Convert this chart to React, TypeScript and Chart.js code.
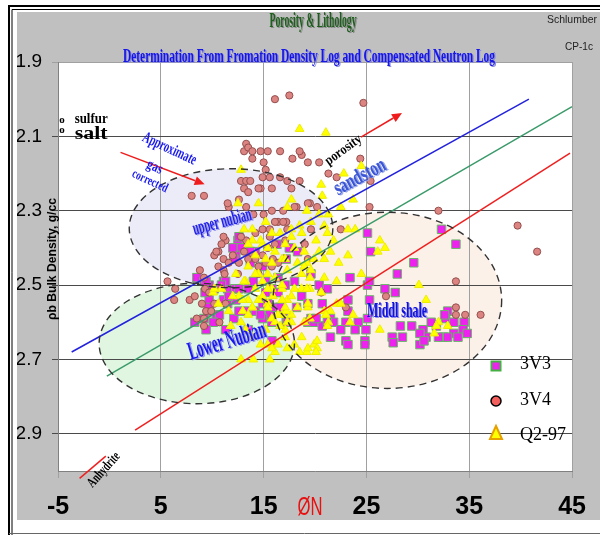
import React, { useEffect, useRef } from "react";
import { Chart, registerables } from "chart.js";

Chart.register(...registerables);

type P = [number, number];

// ---------- axes ----------
const X_TICKS = [-5, 5, 15, 25, 35, 45];
const Y_TICKS = [1.9, 2.1, 2.3, 2.5, 2.7, 2.9];
const X_MIN = -5, X_MAX = 45, Y_MIN = 1.9, Y_MAX = 3.0;

// ---------- series ----------
const SERIES_NAMES = ["3V3", "3V4", "Q2-97"];

const S_3V3: P[] = [
  [12.5, 2.38], [12.8, 2.40], [12.3, 2.42], [13.7, 2.44], [14.2, 2.41], [14.9, 2.45], [16.3, 2.39], [17.5, 2.40], [18.3, 2.41], [17.2, 2.43],
  [8.5, 2.48], [9.2, 2.49], [11.1, 2.49], [11.5, 2.51], [10.2, 2.51], [12.3, 2.51], [11.1, 2.54], [11.5, 2.55], [12.3, 2.54], [13.5, 2.51],
  [15.2, 2.49], [15.8, 2.51], [16.4, 2.48], [17.1, 2.50], [18.0, 2.49], [18.7, 2.53], [19.6, 2.47], [9.7, 2.54], [9.7, 2.57], [9.2, 2.59],
  [10.4, 2.59], [12.1, 2.59], [15.6, 2.58], [17.2, 2.60], [19.6, 2.59], [13.3, 2.57], [14.2, 2.57], [14.9, 2.55], [12.6, 2.37], [12.0, 2.40],
  [13.7, 2.41], [12.1, 2.43], [11.3, 2.49], [9.7, 2.50], [9.3, 2.52], [11.6, 2.53], [12.6, 2.51], [15.2, 2.52], [16.4, 2.52], [14.0, 2.49],
  [16.1, 2.56], [10.7, 2.58], [14.9, 2.59], [10.1, 2.60], [8.3, 2.60], [11.3, 2.62], [13.5, 2.62], [15.8, 2.60], [16.9, 2.57], [17.3, 2.60],
  [9.4, 2.49], [10.9, 2.50], [9.6, 2.56], [12.6, 2.57], [14.7, 2.58], [15.4, 2.55], [16.6, 2.56], [18.2, 2.56],
  [20.4, 2.50], [20.7, 2.55], [19.3, 2.60], [19.9, 2.60], [20.7, 2.61], [21.5, 2.59], [9.4, 2.62], [15.8, 2.65],
  [21.2, 2.51], [23.2, 2.54], [25.1, 2.50], [26.8, 2.51], [27.8, 2.52], [21.8, 2.60], [23.0, 2.60], [24.2, 2.60], [25.1, 2.59],
  [22.5, 2.62], [23.9, 2.62], [24.95, 2.62], [21.5, 2.64], [23.0, 2.65], [24.85, 2.65], [28.3, 2.61], [29.4, 2.61], [30.5, 2.62], [31.8, 2.61],
  [32.9, 2.57], [32.7, 2.59], [33.5, 2.60], [34.5, 2.60], [33.5, 2.63], [34.4, 2.62], [30.8, 2.64], [32.5, 2.64], [30.2, 2.66], [28.5, 2.64],
  [27.5, 2.64], [27.6, 2.655], [25.1, 2.36], [25.4, 2.41], [28.0, 2.47], [29.6, 2.44], [23.4, 2.48], [25.3, 2.49], [25.3, 2.54],
  [32.3, 2.35], [33.7, 2.39], [19.3, 2.55], [20.1, 2.59], [21.2, 2.60], [23.2, 2.57], [24.85, 2.66], [23.2, 2.66],
  [30.2, 2.63], [30.6, 2.65], [32.0, 2.64], [32.9, 2.64], [33.9, 2.64], [34.8, 2.63], [32.6, 2.58], [31.3, 2.60],
];

const S_3V4: P[] = [
  [16.1, 2.00], [17.5, 1.99], [24.7, 2.01],
  [13.3, 2.12], [13.1, 2.14], [13.5, 2.13], [13.9, 2.14], [13.9, 2.16], [14.7, 2.14], [15.4, 2.14], [16.6, 2.14], [18.7, 2.15], [15.0, 2.17], [17.8, 2.16],
  [15.2, 2.19], [14.9, 2.21], [15.6, 2.21], [16.6, 2.21], [17.3, 2.22], [18.5, 2.22], [12.8, 2.22], [13.3, 2.22], [13.7, 2.22], [13.1, 2.24],
  [14.7, 2.24], [15.8, 2.24], [17.7, 2.24], [8.0, 2.26], [9.2, 2.26], [11.6, 2.29], [13.3, 2.29],
  [18.5, 2.14], [19.3, 2.17], [20.4, 2.17], [21.3, 2.20], [22.1, 2.21], [24.4, 2.16],
  [19.5, 2.28], [20.2, 2.29], [18.2, 2.29], [25.3, 2.29], [22.5, 2.35], [32.0, 2.30], [39.7, 2.34], [41.6, 2.41],
  [33.7, 2.49], [26.9, 2.53], [23.0, 2.56], [20.6, 2.52], [33.7, 2.56], [33.7, 2.58], [34.6, 2.58], [36.1, 2.58], [25.4, 2.22],
  [14.0, 2.31], [15.0, 2.31], [15.8, 2.30], [16.9, 2.30], [18.0, 2.29], [19.3, 2.28],
  [14.2, 2.36], [14.9, 2.35], [15.6, 2.35], [16.4, 2.33], [17.2, 2.33], [17.3, 2.35],
  [11.3, 2.38], [10.9, 2.39], [10.6, 2.41], [10.2, 2.42], [11.1, 2.43], [12.0, 2.42], [12.6, 2.44], [13.1, 2.41], [13.9, 2.42], [14.2, 2.43],
  [14.9, 2.42], [15.2, 2.44], [15.8, 2.45], [15.9, 2.43], [16.4, 2.44], [15.4, 2.40], [15.6, 2.37], [16.1, 2.39],
  [10.6, 2.45], [11.1, 2.46], [11.2, 2.47], [8.8, 2.46], [9.2, 2.48], [5.65, 2.49], [6.4, 2.51], [6.3, 2.54], [7.8, 2.54], [8.3, 2.53],
  [9.3, 2.51], [9.4, 2.57], [8.5, 2.59],
  [12.5, 2.47], [14.5, 2.47], [17.1, 2.38], [13.3, 2.38], [12.8, 2.37], [19.0, 2.39], [19.3, 2.43], [19.6, 2.35],
  [11.5, 2.28], [12.6, 2.27], [13.5, 2.25], [14.5, 2.24], [16.1, 2.33], [16.9, 2.33],
  [11.1, 2.37], [10.4, 2.41], [11.6, 2.44], [13.5, 2.43], [14.5, 2.45], [9.7, 2.52], [9.2, 2.59], [10.2, 2.55], [11.3, 2.55],
  [9.2, 2.61], [10.7, 2.60], [9.0, 2.55], [9.9, 2.57],
];

const S_Q297: P[] = [
  [12.8, 2.19], [18.5, 2.08], [21.05, 2.09], [22.8, 2.20], [24.5, 2.18], [14.5, 2.28], [17.7, 2.27], [12.5, 2.28],
  [20.6, 2.23], [20.7, 2.26], [23.7, 2.27], [22.5, 2.29], [21.3, 2.31], [23.9, 2.35], [23.2, 2.35], [21.2, 2.36],
  [26.3, 2.38], [26.8, 2.40], [26.1, 2.41], [23.2, 2.42], [21.5, 2.41], [22.3, 2.44], [20.9, 2.43], [19.9, 2.43],
  [24.5, 2.47], [19.6, 2.46], [20.9, 2.48], [22.1, 2.49], [18.7, 2.51], [30.1, 2.50], [30.8, 2.54], [22.1, 2.55],
  [19.3, 2.56], [21.5, 2.57], [23.4, 2.60], [26.3, 2.62], [32.0, 2.60], [32.9, 2.61], [31.6, 2.63], [18.7, 2.64],
  [19.9, 2.66], [19.2, 2.68], [18.5, 2.68], [31.8, 2.61], [23.7, 2.58], [21.3, 2.60], [22.5, 2.55], [20.9, 2.57], [20.2, 2.67],
  [13.5, 2.54], [13.9, 2.56], [15.8, 2.59], [16.8, 2.58], [17.7, 2.58], [17.1, 2.62], [16.4, 2.66], [17.3, 2.67],
  [16.1, 2.68], [19.3, 2.67], [20.1, 2.68], [20.2, 2.65], [19.5, 2.59], [21.05, 2.58], [21.2, 2.61], [15.6, 2.70],
  [14.0, 2.70], [12.8, 2.70], [15.4, 2.66], [13.9, 2.64], [14.5, 2.54], [15.8, 2.51], [16.8, 2.51], [17.3, 2.54],
  [19.5, 2.51], [20.6, 2.52], [17.3, 2.29], [19.2, 2.30], [15.2, 2.33], [15.8, 2.36], [16.6, 2.36], [17.7, 2.35],
  [18.7, 2.36], [19.6, 2.33], [13.9, 2.38], [14.9, 2.39], [16.1, 2.41], [17.7, 2.37], [18.0, 2.40], [18.95, 2.41],
  [16.8, 2.43], [18.3, 2.44], [19.2, 2.44], [15.2, 2.43], [13.5, 2.45], [14.5, 2.47], [15.4, 2.47], [16.1, 2.48],
  [17.3, 2.46], [18.7, 2.47], [19.5, 2.48], [13.25, 2.49], [12.6, 2.53], [14.2, 2.51], [14.9, 2.53], [15.4, 2.55],
  [15.9, 2.53], [16.8, 2.54], [17.7, 2.53], [17.2, 2.57], [18.3, 2.56], [19.3, 2.55], [13.9, 2.56], [16.4, 2.58],
  [17.7, 2.60], [18.95, 2.60], [12.97, 2.57], [11.6, 2.57], [10.6, 2.55], [10.1, 2.52], [10.9, 2.51], [12.0, 2.53],
  [19.2, 2.51], [13.1, 2.35], [13.9, 2.35], [13.5, 2.39], [14.7, 2.38], [15.4, 2.40], [17.1, 2.39], [14.2, 2.42],
  [15.8, 2.44], [17.1, 2.43], [12.3, 2.47], [13.1, 2.49], [14.2, 2.47], [14.9, 2.49], [15.4, 2.51], [16.8, 2.50],
  [12.97, 2.54], [10.2, 2.51], [13.5, 2.58], [15.4, 2.56], [17.1, 2.56], [17.3, 2.60], [16.1, 2.60], [15.8, 2.67], [17.1, 2.64],
  [20.4, 2.31], [20.9, 2.34], [20.1, 2.38], [21.8, 2.38], [18.95, 2.45], [18.0, 2.51], [16.6, 2.61], [15.2, 2.62],
  [14.7, 2.66], [18.0, 2.66], [12.8, 2.60], [11.8, 2.61], [13.25, 2.62], [18.5, 2.34], [20.4, 2.41],
];

// ---------- lithology lines & overlays (data units) ----------
const SANDSTONE_LINE: P[] = [[-3.67, 2.68], [40.8, 2.0]];
const LIMESTONE_LINE: P[] = [[-0.25, 2.745], [45, 2.02]];
const DOLOMITE_LINE: P[] = [[2.5, 2.89], [44.8, 2.145]];
const ANHYDRITE_LINE: P[] = [[-2.9, 3.02], [-0.35, 2.96]];
const ARROWS: { from: P; to: P }[] = [
  { from: [1.08, 2.143], to: [9.26, 2.229] },
  { from: [24.47, 2.102], to: [28.46, 2.037] },
];
const ELLIPSES = [
  { cx: 11.83, cy: 2.347, rx: 9.9, ry: 0.16, fill: "#ececf8" },
  { cx: 8.5, cy: 2.657, rx: 9.5, ry: 0.162, fill: "#e0f6e0" },
  { cx: 27.03, cy: 2.541, rx: 11.12, ry: 0.237, fill: "#fcf1e8" },
];

// ---------- texts ----------
const SERIF = '"Liberation Serif", "Times New Roman", serif';
const SANS = '"Liberation Sans", Arial, sans-serif';
const NARROW = '"Liberation Sans Narrow", "Arial Narrow", "Liberation Sans", sans-serif';

type Note = {
  text: string; x: number; y: number; font: string; color: string;
  angle?: number; width?: number; align?: CanvasTextAlign; shadow?: string;
};

const PLOT_NOTES: Note[] = [
  { text: "o", x: -4.62, y: 2.056, font: `bold 11px ${SERIF}`, color: "#000" },
  { text: "o", x: -4.62, y: 2.083, font: `bold 11px ${SERIF}`, color: "#000" },
  { text: "sulfur", x: -3.38, y: 2.054, font: `bold 14px ${SERIF}`, color: "#000", width: 33, align: "left" },
  { text: "salt", x: -3.38, y: 2.094, font: `bold 18px ${SERIF}`, color: "#000", width: 33, align: "left" },
  { text: "Approximate", x: 5.84, y: 2.134, angle: 25, font: `bold 16px ${SERIF}`, color: "#1a1aee", width: 58 },
  { text: "gas", x: 4.41, y: 2.183, angle: 25, font: `bold 15px ${SERIF}`, color: "#1a1aee", width: 16 },
  { text: "corrected", x: 3.94, y: 2.221, angle: 25, font: `bold 13px ${SERIF}`, color: "#1a1aee", width: 38 },
  { text: "porosity", x: 22.76, y: 2.137, angle: -36, font: `bold 14px ${SERIF}`, color: "#000", width: 42 },
  { text: "sandston", x: 24.37, y: 2.21, angle: -28, font: `bold 22px ${SERIF}`, color: "#3a55d6", width: 56, shadow: "#9aa8e8" },
  { text: "upper nubian", x: 10.97, y: 2.331, angle: -15, font: `bold 20px ${SERIF}`, color: "#2222e8", width: 60, shadow: "#9a9af0" },
  { text: "Lower Nubian", x: 11.45, y: 2.652, angle: -17, font: `bold 26px ${SERIF}`, color: "#1818ee", width: 80, shadow: "#9a9af0" },
  { text: "Middl shale", x: 27.98, y: 2.571, font: `bold 21px ${SERIF}`, color: "#1212dd", width: 60, shadow: "#8c8cf0" },
  { text: "Anhydrite", x: -0.53, y: 2.997, angle: -48, font: `bold 14px ${SERIF}`, color: "#000", width: 42 },
];

const PAGE_NOTES: Note[] = [
  { text: "Porosity & Lithology", x: 313, y: 22, font: `bold 20px ${SERIF}`, color: "#1d5e1d", width: 87, shadow: "#8a8a8a" },
  { text: "Determination From Fromation Density Log and Compensated Neutron Log", x: 309, y: 57, font: `bold 18px ${SERIF}`, color: "#1515e8", width: 372, shadow: "#8c8cd8" },
  { text: "Schlumber", x: 547, y: 20, font: `11px ${SANS}`, color: "#222", width: 50, align: "left" },
  { text: "CP-1c", x: 565, y: 47, font: `11px ${SANS}`, color: "#222", width: 28, align: "left" },
  { text: "ØN", x: 310, y: 508, font: `25px ${SANS}`, color: "#e81010", width: 25 },
  { text: "ρb Bulk Density, g/cc", x: 53, y: 259, angle: -90, font: `bold 12px ${SANS}`, color: "#000", width: 122 },
];

const LEGEND_POS = [
  { mx: 496, my: 366, tx: 520, ty: 364 },
  { mx: 496, my: 401, tx: 520, ty: 400 },
  { mx: 496, my: 433, tx: 520, ty: 435 },
];

function drawNote(ctx: CanvasRenderingContext2D, n: Note, px: number, py: number) {
  ctx.save();
  ctx.translate(px, py);
  if (n.angle) ctx.rotate((n.angle * Math.PI) / 180);
  ctx.font = n.font;
  ctx.textAlign = n.align || "center";
  ctx.textBaseline = "middle";
  const w = ctx.measureText(n.text).width;
  const sx = n.width ? n.width / w : 1;
  ctx.scale(sx, 1);
  if (n.shadow) {
    ctx.fillStyle = n.shadow;
    ctx.fillText(n.text, 1.2 / sx, 1.2);
  }
  ctx.fillStyle = n.color;
  ctx.fillText(n.text, 0, 0);
  ctx.restore();
}

const toXY = (arr: P[]) => arr.map(([x, y]) => ({ x, y }));

const backgroundPlugin = {
  id: "bgFrame",
  beforeDraw(chart: any) {
    const { ctx, chartArea: a, scales } = chart;
    ctx.save();
    ctx.fillStyle = "#ffffff";
    ctx.fillRect(0, 0, chart.width, chart.height);
    ctx.fillStyle = "#c0c0c0";
    ctx.fillRect(17, 12, chart.width - 17, 508);
    ctx.strokeStyle = "#000";
    ctx.lineWidth = 2;
    ctx.beginPath();
    ctx.moveTo(9, 535); ctx.lineTo(9, 6); ctx.lineTo(600, 6);
    ctx.stroke();
    ctx.lineWidth = 1;
    ctx.beginPath();
    ctx.moveTo(12, 535); ctx.lineTo(12, 9.5); ctx.lineTo(600, 9.5);
    ctx.stroke();
    ctx.strokeStyle = "#666";
    ctx.beginPath();
    ctx.moveTo(9, 533.5); ctx.lineTo(600, 533.5);
    ctx.stroke();
    ctx.fillStyle = "#ffffff";
    ctx.fillRect(a.left, a.top, a.right - a.left, a.bottom - a.top);
    const x = scales.x, y = scales.y;
    ELLIPSES.forEach((e) => {
      const cx = x.getPixelForValue(e.cx), cy = y.getPixelForValue(e.cy);
      const rx = Math.abs(x.getPixelForValue(e.cx + e.rx) - cx);
      const ry = Math.abs(y.getPixelForValue(e.cy + e.ry) - cy);
      ctx.beginPath();
      ctx.ellipse(cx, cy, rx, ry, 0, 0, Math.PI * 2);
      ctx.fillStyle = e.fill;
      ctx.fill();
    });
    ctx.restore();
  },
  afterDatasetsDraw(chart: any) {
    const { ctx, scales } = chart;
    const x = scales.x, y = scales.y;
    ctx.save();
    ctx.strokeStyle = "#333";
    ctx.lineWidth = 1.4;
    ctx.setLineDash([7, 5]);
    ELLIPSES.forEach((e) => {
      const cx = x.getPixelForValue(e.cx), cy = y.getPixelForValue(e.cy);
      const rx = Math.abs(x.getPixelForValue(e.cx + e.rx) - cx);
      const ry = Math.abs(y.getPixelForValue(e.cy + e.ry) - cy);
      ctx.beginPath();
      ctx.ellipse(cx, cy, rx, ry, 0, 0, Math.PI * 2);
      ctx.stroke();
    });
    ctx.setLineDash([]);
    ctx.strokeStyle = "#ee1c1c";
    ctx.fillStyle = "#ee1c1c";
    ctx.lineWidth = 1.5;
    ARROWS.forEach((ar) => {
      const x1 = x.getPixelForValue(ar.from[0]), y1 = y.getPixelForValue(ar.from[1]);
      const x2 = x.getPixelForValue(ar.to[0]), y2 = y.getPixelForValue(ar.to[1]);
      const ang = Math.atan2(y2 - y1, x2 - x1);
      const hl = 10, hw = 4.5;
      const bx = x2 - hl * Math.cos(ang), by = y2 - hl * Math.sin(ang);
      ctx.beginPath();
      ctx.moveTo(x1, y1);
      ctx.lineTo(bx, by);
      ctx.stroke();
      ctx.beginPath();
      ctx.moveTo(x2, y2);
      ctx.lineTo(bx - hw * Math.sin(ang), by + hw * Math.cos(ang));
      ctx.lineTo(bx + hw * Math.sin(ang), by - hw * Math.cos(ang));
      ctx.closePath();
      ctx.fill();
    });
    ctx.restore();
  },
  afterDraw(chart: any) {
    const { ctx, scales } = chart;
    const x = scales.x, y = scales.y;
    PLOT_NOTES.forEach((n) => drawNote(ctx, n, x.getPixelForValue(n.x), y.getPixelForValue(n.y)));
    PAGE_NOTES.forEach((n) => drawNote(ctx, n, n.x, n.y));
    // legend
    ctx.save();
    const [p0, p1, p2] = LEGEND_POS;
    ctx.fillStyle = "#ee22ee";
    ctx.strokeStyle = "#44b044";
    ctx.lineWidth = 2;
    ctx.fillRect(p0.mx - 4.5, p0.my - 4.5, 9, 9);
    ctx.strokeRect(p0.mx - 4.5, p0.my - 4.5, 9, 9);
    ctx.beginPath();
    ctx.arc(p1.mx, p1.my, 5, 0, Math.PI * 2);
    ctx.fillStyle = "#f25f5c";
    ctx.fill();
    ctx.lineWidth = 1.5;
    ctx.strokeStyle = "#000";
    ctx.stroke();
    ctx.beginPath();
    ctx.moveTo(p2.mx, p2.my - 7);
    ctx.lineTo(p2.mx + 6, p2.my + 6);
    ctx.lineTo(p2.mx - 6, p2.my + 6);
    ctx.closePath();
    ctx.fillStyle = "#ffff00";
    ctx.fill();
    ctx.lineWidth = 2;
    ctx.strokeStyle = "#e6a000";
    ctx.stroke();
    ctx.restore();
    SERIES_NAMES.forEach((name, i) =>
      drawNote(ctx, { text: name, x: 0, y: 0, font: `18px ${SERIF}`, color: "#000", align: "left" }, LEGEND_POS[i].tx, LEGEND_POS[i].ty)
    );
  },
};

export default function App() {
  const ref = useRef<HTMLCanvasElement>(null);
  useEffect(() => {
    if (!ref.current) return;
    const lineDs = (label: string, pts: P[], color: string, clip?: boolean) => ({
      label,
      data: toXY(pts),
      showLine: true,
      borderColor: color,
      borderWidth: 1.5,
      pointRadius: 0,
      fill: false,
      order: 0,
      clip: clip === false ? false : undefined,
    });
    const chart = new Chart(ref.current, {
      type: "scatter",
      data: {
        datasets: [
          lineDs("sandstone", SANDSTONE_LINE, "#2222dd"),
          lineDs("limestone", LIMESTONE_LINE, "#3a9a6a"),
          lineDs("dolomite", DOLOMITE_LINE, "#ee2020"),
          lineDs("anhydrite", ANHYDRITE_LINE, "#ee2020", false),
          {
            label: SERIES_NAMES[2],
            data: toXY(S_Q297),
            pointStyle: "triangle",
            pointRadius: 5,
            backgroundColor: "#ffff00",
            borderColor: "#eeee00",
            borderWidth: 1,
            order: 1,
          },
          {
            label: SERIES_NAMES[1],
            data: toXY(S_3V4),
            pointStyle: "circle",
            pointRadius: 3.6,
            backgroundColor: "#dc8482",
            borderColor: "#94504e",
            borderWidth: 1,
            order: 2,
          },
          {
            label: SERIES_NAMES[0],
            data: toXY(S_3V3),
            pointStyle: "rect",
            pointRadius: 6,
            backgroundColor: "#ee22ee",
            borderColor: "#66b866",
            borderWidth: 1,
            order: 3,
          },
        ] as any,
      },
      options: {
        animation: false,
        responsive: false,
        events: [],
        layout: { padding: { left: 17, right: 16, top: 62, bottom: 0 } },
        plugins: { legend: { display: false }, tooltip: { enabled: false }, title: { display: false } },
        scales: {
          x: {
            type: "linear",
            min: X_MIN,
            max: X_MAX,
            afterBuildTicks: (s: any) => {
              s.ticks = X_TICKS.map((v) => ({ value: v }));
            },
            afterFit: (s: any) => {
              s.height = 64;
            },
            grid: { color: "#a0a0a0", lineWidth: 1, tickLength: 7 },
            border: { color: "#808080" },
            ticks: {
              autoSkip: false,
              maxRotation: 0,
              padding: 14,
              color: "#000",
              font: { family: NARROW, size: 25, weight: "bold" },
              callback: (v: any) => String(v),
            },
          },
          y: {
            type: "linear",
            reverse: true,
            min: Y_MIN,
            max: Y_MAX,
            afterBuildTicks: (s: any) => {
              s.ticks = Y_TICKS.map((v) => ({ value: v }));
            },
            afterFit: (s: any) => {
              s.width = 41;
            },
            grid: {
              color: (c: any) => (c.tick && Math.abs(c.tick.value - 1.9) < 1e-6 ? "#a0a0a0" : "#4a4a4a"),
              lineWidth: 1,
              tickLength: 6,
            },
            border: { color: "#808080" },
            ticks: {
              padding: 10,
              color: "#000",
              font: { family: SANS, size: 19 },
              callback: (v: any) => Number(v).toFixed(1),
            },
          },
        },
      } as any,
      plugins: [backgroundPlugin],
    });
    return () => chart.destroy();
  }, []);
  return (
    <div style={{ position: "absolute", left: 0, top: 0, width: 600, height: 535 }}>
      <canvas ref={ref} width={600} height={535} style={{ width: 600, height: 535, display: "block" }} />
    </div>
  );
}
